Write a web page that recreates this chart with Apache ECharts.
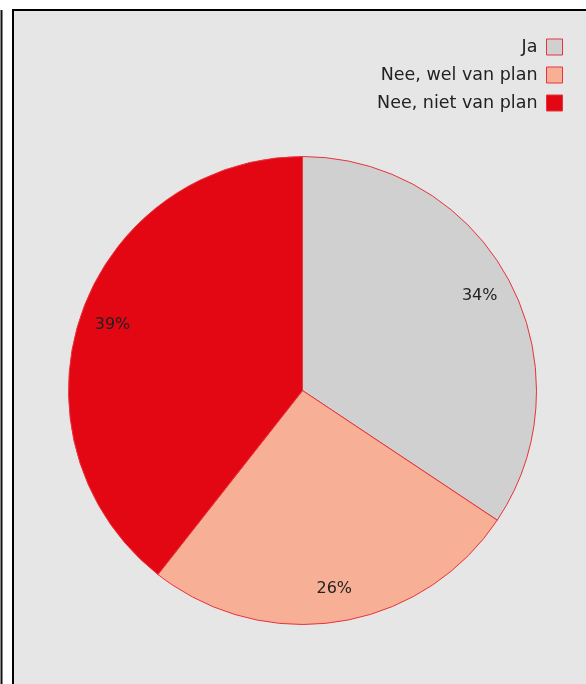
<!DOCTYPE html>
<html>
<head>
<meta charset="utf-8">
<script src="https://cdn.jsdelivr.net/npm/echarts@6/dist/echarts.min.js"></script>
<style>
html,body{margin:0;padding:0;background:#fff;}
#chart{width:586px;height:684px;}
</style>
</head>
<body>
<div id="chart"></div>
<script>
var categories = ['Ja', 'Nee, wel van plan', 'Nee, niet van plan'];
var values = [34.35, 26.25, 39.4];
var colors = ['#d0d0d0', '#f7af96', '#e30613'];

var chart = echarts.init(document.getElementById('chart'), null, {renderer: 'canvas'});
var fontFamily = '"DejaVu Sans", sans-serif';

var data = categories.map(function (c, i) {
  return {name: c, value: values[i], itemStyle: {color: colors[i]}};
});

chart.setOption({
  animation: false,
  backgroundColor: '#ffffff',
  graphic: [
    {type: 'rect', z: -10, shape: {x: 13, y: 10, width: 620, height: 720},
     style: {fill: '#e6e6e6', stroke: '#000', lineWidth: 2}},
    {type: 'line', z: -10, shape: {x1: 1.5, y1: 10, x2: 1.5, y2: 700},
     style: {stroke: '#111', lineWidth: 2}}
  ],
  legend: {
    orient: 'vertical',
    right: 23,
    top: 38,
    padding: 0,
    align: 'right',
    itemWidth: 16,
    itemHeight: 16,
    itemGap: 10,
    icon: 'rect',
    selectedMode: false,
    textStyle: {fontFamily: fontFamily, fontSize: 17.5, color: '#222', lineHeight: 17, padding: [0, 4, 0, 0]},
    itemStyle: {borderColor: '#e8333c', borderWidth: 1},
    data: categories
  },
  series: [
    {
      type: 'pie',
      center: [302.5, 390.5],
      radius: 234,
      startAngle: 90,
      clockwise: true,
      silent: true,
      label: {show: false},
      labelLine: {show: false},
      itemStyle: {borderColor: '#e8333c', borderWidth: 1},
      data: data
    },
    {
      type: 'pie',
      center: [302.5, 390.5],
      radius: [162, 234],
      startAngle: 90,
      clockwise: true,
      silent: true,
      legendHoverLink: false,
      itemStyle: {color: 'rgba(0,0,0,0)', borderWidth: 0},
      label: {
        show: true,
        position: 'inside',
        fontFamily: fontFamily,
        fontSize: 16,
        color: '#222',
        formatter: function (p) { return Math.round(p.value) + '%'; }
      },
      labelLine: {show: false},
      data: categories.map(function (c, i) {
        return {name: c + ' ', value: values[i]};
      })
    }
  ]
});
</script>
</body>
</html>
